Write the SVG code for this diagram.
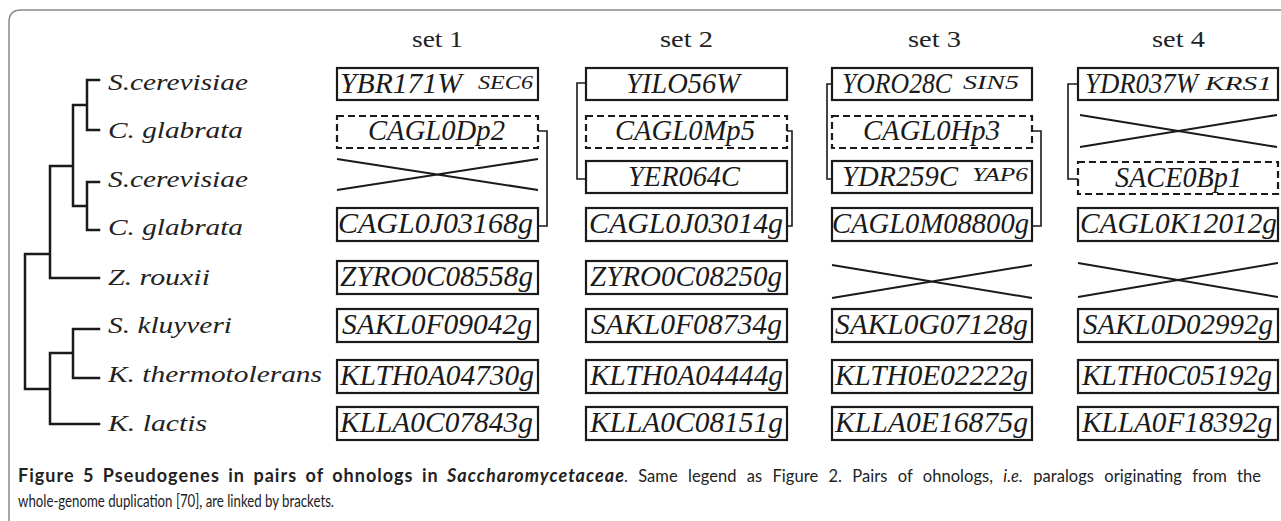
<svg xmlns="http://www.w3.org/2000/svg" width="1281" height="521" viewBox="0 0 1281 521">
<style>
.frame{fill:none;stroke:#8a8a8a;stroke-width:1.5}
.tree{fill:none;stroke:#1a1a1a;stroke-width:2.5;stroke-linecap:square}
.box{fill:#fff;stroke:#1a1a1a;stroke-width:2.2}
.dbox{fill:#fff;stroke:#1a1a1a;stroke-width:2.2;stroke-dasharray:7 4}
.cross{fill:none;stroke:#1a1a1a;stroke-width:2}
.br{fill:none;stroke:#1a1a1a;stroke-width:1.6}
.sp{font-family:"Liberation Serif","Times New Roman","DejaVu Serif",serif;font-style:italic;font-size:24px;fill:#222}
.g{font-family:"Liberation Serif","Times New Roman","DejaVu Serif",serif;font-style:italic;font-size:29px;fill:#1a1a1a}
.sup{font-family:"Liberation Serif","Times New Roman","DejaVu Serif",serif;font-style:italic;font-size:18px;fill:#1a1a1a}
.hd{font-family:"Liberation Serif","Times New Roman","DejaVu Serif",serif;font-size:23px;fill:#222}
.cap{font-family:Lato,"Noto Sans",sans-serif;font-size:16.5px;fill:#222}
.capb{font-family:Lato,"Noto Sans",sans-serif;font-size:18px;font-weight:bold;fill:#222}
.i{font-style:italic}
</style>
<rect width="1281" height="521" fill="#fff"/>
<path class="frame" d="M9 521 V22 Q9 10 21 10 H1281"/>

<g id="tree">
<path class="tree" d="M99 80 H87 V130 H99 M87 105 H73 M99 182 H87 V230 H99 M87 206 H73 M73 105 V206 M73 166 H50 M50 166 V278 H99 M50 254 H25 M25 254 V389 H50 M50 353 V424 H99 M50 353 H73 M99 329 H73 V378 H99"/>
</g>

<g id="species">
<text class="sp" x="108" y="90" textLength="140" lengthAdjust="spacingAndGlyphs">S.cerevisiae</text>
<text class="sp" x="108" y="138" textLength="135" lengthAdjust="spacingAndGlyphs">C. glabrata</text>
<text class="sp" x="108" y="187" textLength="140" lengthAdjust="spacingAndGlyphs">S.cerevisiae</text>
<text class="sp" x="108" y="235" textLength="135" lengthAdjust="spacingAndGlyphs">C. glabrata</text>
<text class="sp" x="108" y="285" textLength="102" lengthAdjust="spacingAndGlyphs">Z. rouxii</text>
<text class="sp" x="108" y="333" textLength="124" lengthAdjust="spacingAndGlyphs">S. kluyveri</text>
<text class="sp" x="108" y="382" textLength="214" lengthAdjust="spacingAndGlyphs">K. thermotolerans</text>
<text class="sp" x="108" y="431" textLength="99" lengthAdjust="spacingAndGlyphs">K. lactis</text>
</g>

<g id="headers">
<text class="hd" x="412" y="47" textLength="51" lengthAdjust="spacingAndGlyphs">set 1</text>
<text class="hd" x="660" y="47" textLength="53" lengthAdjust="spacingAndGlyphs">set 2</text>
<text class="hd" x="908" y="47" textLength="53" lengthAdjust="spacingAndGlyphs">set 3</text>
<text class="hd" x="1152" y="47" textLength="53" lengthAdjust="spacingAndGlyphs">set 4</text>
</g>

<g id="connectors">
<path class="br" d="M538 131 H547 V226 H538"/>
<path class="br" d="M586 83 H577 V179 H586"/>
<path class="br" d="M787 131 H792 V226 H787"/>
<path class="br" d="M832 84 H827 V179 H832"/>
<path class="br" d="M1032 131 H1041 V226 H1032"/>
<path class="br" d="M1078 84 H1068 V179 H1078"/>
</g>

<g id="set1">
<g id="s1r1"><rect class="box" x="337" y="68" width="201" height="32"/><text class="g" x="340" y="93" textLength="122" lengthAdjust="spacingAndGlyphs">YBR171W</text><text class="sup" x="478" y="89" textLength="55" lengthAdjust="spacingAndGlyphs">SEC6</text></g>
<g id="s1r2"><rect class="dbox" x="337" y="116" width="201" height="32"/><text class="g" x="368" y="140" textLength="137" lengthAdjust="spacingAndGlyphs">CAGL0Dp2</text></g>
<g id="s1r3"><path class="cross" d="M337 159 L538 190 M337 190 L538 159"/></g>
<g id="s1r4"><rect class="box" x="337" y="208" width="201" height="33"/><text class="g" x="338" y="233" textLength="195" lengthAdjust="spacingAndGlyphs">CAGL0J03168g</text></g>
<g id="s1r5"><rect class="box" x="337" y="261" width="201" height="33"/><text class="g" x="340" y="286" textLength="193" lengthAdjust="spacingAndGlyphs">ZYRO0C08558g</text></g>
<g id="s1r6"><rect class="box" x="337" y="309" width="201" height="33"/><text class="g" x="342" y="334" textLength="190" lengthAdjust="spacingAndGlyphs">SAKL0F09042g</text></g>
<g id="s1r7"><rect class="box" x="337" y="360" width="201" height="33"/><text class="g" x="340" y="385" textLength="194" lengthAdjust="spacingAndGlyphs">KLTH0A04730g</text></g>
<g id="s1r8"><rect class="box" x="337" y="407" width="201" height="33"/><text class="g" x="340" y="432" textLength="193" lengthAdjust="spacingAndGlyphs">KLLA0C07843g</text></g>
</g>

<g id="set2">
<g id="s2r1"><rect class="box" x="586" y="68" width="201" height="32"/><text class="g" x="626" y="93" textLength="114" lengthAdjust="spacingAndGlyphs">YILO56W</text></g>
<g id="s2r2"><rect class="dbox" x="586" y="116" width="201" height="32"/><text class="g" x="615" y="140" textLength="140" lengthAdjust="spacingAndGlyphs">CAGL0Mp5</text></g>
<g id="s2r3"><rect class="box" x="586" y="161" width="201" height="32"/><text class="g" x="628" y="186" textLength="112" lengthAdjust="spacingAndGlyphs">YER064C</text></g>
<g id="s2r4"><rect class="box" x="586" y="208" width="201" height="33"/><text class="g" x="589" y="233" textLength="194" lengthAdjust="spacingAndGlyphs">CAGL0J03014g</text></g>
<g id="s2r5"><rect class="box" x="586" y="261" width="201" height="33"/><text class="g" x="590" y="286" textLength="192" lengthAdjust="spacingAndGlyphs">ZYRO0C08250g</text></g>
<g id="s2r6"><rect class="box" x="586" y="309" width="201" height="33"/><text class="g" x="591" y="334" textLength="191" lengthAdjust="spacingAndGlyphs">SAKL0F08734g</text></g>
<g id="s2r7"><rect class="box" x="586" y="360" width="201" height="33"/><text class="g" x="590" y="385" textLength="193" lengthAdjust="spacingAndGlyphs">KLTH0A04444g</text></g>
<g id="s2r8"><rect class="box" x="586" y="407" width="201" height="33"/><text class="g" x="590" y="432" textLength="193" lengthAdjust="spacingAndGlyphs">KLLA0C08151g</text></g>
</g>

<g id="set3">
<g id="s3r1"><rect class="box" x="832" y="68" width="200" height="32"/><text class="g" x="842" y="93" textLength="110" lengthAdjust="spacingAndGlyphs">YORO28C</text><text class="sup" x="963" y="89" textLength="56" lengthAdjust="spacingAndGlyphs">SIN5</text></g>
<g id="s3r2"><rect class="dbox" x="832" y="116" width="200" height="32"/><text class="g" x="863" y="140" textLength="137" lengthAdjust="spacingAndGlyphs">CAGL0Hp3</text></g>
<g id="s3r3"><rect class="box" x="832" y="161" width="200" height="32"/><text class="g" x="842" y="186" textLength="116" lengthAdjust="spacingAndGlyphs">YDR259C</text><text class="sup" x="972" y="181" textLength="56" lengthAdjust="spacingAndGlyphs">YAP6</text></g>
<g id="s3r4"><rect class="box" x="832" y="208" width="200" height="33"/><text class="g" x="832" y="233" textLength="197" lengthAdjust="spacingAndGlyphs">CAGL0M08800g</text></g>
<g id="s3r5"><path class="cross" d="M832 265 L1032 298 M832 298 L1032 265"/></g>
<g id="s3r6"><rect class="box" x="832" y="309" width="200" height="33"/><text class="g" x="835" y="334" textLength="193" lengthAdjust="spacingAndGlyphs">SAKL0G07128g</text></g>
<g id="s3r7"><rect class="box" x="832" y="360" width="200" height="33"/><text class="g" x="835" y="385" textLength="193" lengthAdjust="spacingAndGlyphs">KLTH0E02222g</text></g>
<g id="s3r8"><rect class="box" x="832" y="407" width="200" height="33"/><text class="g" x="835" y="432" textLength="193" lengthAdjust="spacingAndGlyphs">KLLA0E16875g</text></g>
</g>

<g id="set4">
<g id="s4r1"><rect class="box" x="1078" y="68" width="200" height="32"/><text class="g" x="1085" y="93" textLength="113" lengthAdjust="spacingAndGlyphs">YDR037W</text><text class="sup" x="1205" y="90" font-size="22" textLength="67" lengthAdjust="spacingAndGlyphs">KRS1</text></g>
<g id="s4r2"><path class="cross" d="M1080 115 L1277 147 M1080 147 L1277 115"/></g>
<g id="s4r3"><rect class="dbox" x="1078" y="162" width="200" height="32"/><text class="g" x="1115" y="187" textLength="127" lengthAdjust="spacingAndGlyphs">SACE0Bp1</text></g>
<g id="s4r4"><rect class="box" x="1078" y="208" width="200" height="33"/><text class="g" x="1080" y="233" textLength="197" lengthAdjust="spacingAndGlyphs">CAGL0K12012g</text></g>
<g id="s4r5"><path class="cross" d="M1078 263 L1278 297 M1078 297 L1278 263"/></g>
<g id="s4r6"><rect class="box" x="1078" y="309" width="200" height="33"/><text class="g" x="1083" y="334" textLength="190" lengthAdjust="spacingAndGlyphs">SAKL0D02992g</text></g>
<g id="s4r7"><rect class="box" x="1078" y="360" width="200" height="33"/><text class="g" x="1082" y="385" textLength="190" lengthAdjust="spacingAndGlyphs">KLTH0C05192g</text></g>
<g id="s4r8"><rect class="box" x="1078" y="407" width="200" height="33"/><text class="g" x="1082" y="432" textLength="190" lengthAdjust="spacingAndGlyphs">KLLA0F18392g</text></g>
</g>

<g id="caption">
<text class="capb" x="18" y="482" word-spacing="3" textLength="606" lengthAdjust="spacing">Figure 5 Pseudogenes in pairs of ohnologs in <tspan class="i">Saccharomycetaceae</tspan></text>
<text class="cap" x="624" y="482" word-spacing="6" textLength="637" lengthAdjust="spacing">. Same legend as Figure 2. Pairs of ohnologs, <tspan class="i">i.e.</tspan> paralogs originating from the</text>
<text class="cap" x="18" y="507" textLength="316" lengthAdjust="spacingAndGlyphs">whole-genome duplication [70], are linked by brackets.</text>
</g>
</svg>
